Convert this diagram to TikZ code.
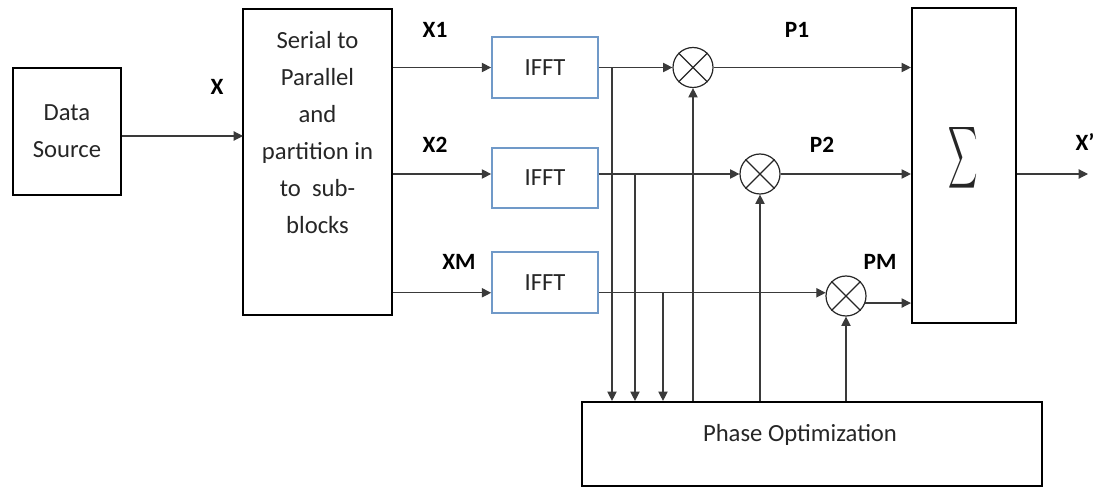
\documentclass[tikz,border=0pt]{standalone}
\usepackage{fontspec}
\setmainfont{Carlito}
\usetikzlibrary{arrows.meta}
\definecolor{fftblue}{HTML}{7099C8}
\definecolor{wire}{HTML}{3A3A3A}
\begin{document}
\begin{tikzpicture}[x=0.75pt,y=-0.75pt,
  every node/.style={font=\fontsize{18.5}{27.75}\selectfont, text=black!85},
  blk/.style={draw=black, line width=1.6pt, rectangle, inner sep=0pt},
  fftbox/.style={draw=fftblue, line width=1.3pt, rectangle, inner sep=0pt, minimum width=79.5pt, minimum height=45.5pt},
  mult/.style={draw=black!85, line width=0.9pt, circle, minimum size=30pt, inner sep=0pt},
  lbl/.style={font=\fontsize{17.5}{20}\bfseries\selectfont, text=black},
  arr/.style={draw=wire, line width=0.85pt, -{Triangle[length=7pt,width=7pt]}}]
\useasboundingbox (0,0) rectangle (1097,488);

% blocks
\node[blk, minimum width=81pt, minimum height=95pt, align=center] (ds) at (67,131.5) {Data\\Source};
\node[blk, minimum width=111.75pt, minimum height=229.5pt] (sp) at (317.5,162) {};
\node[align=center, inner sep=0pt] (spt) at (317.5,132.5) {Serial to\\Parallel\\and\\partition in\\to~ sub-\\blocks};
\node[fftbox] (f1) at (545,67.5) {IFFT};
\node[fftbox] (f2) at (545,178) {IFFT};
\node[fftbox] (f3) at (545,282.5) {IFFT};
\node[mult] (m1) at (693,67.5) {};
\node[mult] (m2) at (760,174) {};
\node[mult] (m3) at (846,296) {};
\foreach \m in {m1,m2,m3}{
  \draw[black!85, line width=0.9pt] (\m.45) -- (\m.225) (\m.135) -- (\m.315);
}
\node[blk, minimum width=78pt, minimum height=236.25pt] (sum) at (964,165.5) {};
\node[inner sep=0pt] (sig) at (963,158) {\resizebox{22pt}{40pt}{$\displaystyle\sum$}};
\node[blk, minimum width=345pt, minimum height=63pt] (po) at (812,444) {};
\node[inner sep=0pt] (pot) at (800,435) {Phase Optimization};

% labels
\node[lbl] (lx) at (217,87) {X};
\node[lbl] (lx1) at (435,30) {X1};
\node[lbl] (lx2) at (435,145) {X2};
\node[lbl] (lxm) at (459,262) {XM};
\node[lbl] (lp1) at (797,30) {P1};
\node[lbl] (lp2) at (822,145) {P2};
\node[lbl] (lpm) at (880,262) {PM};
\node[lbl] (lxo) at (1085,142) {X’};

% connectors
\coordinate (xin) at (243,136);
\draw[arr] (ds.east |- xin) -- (xin);
\draw[arr] (sp.east |- f1.west) -- (f1.west);
\draw[arr] (sp.east |- m2) -- (f2.west |- m2);
\draw[arr] (sp.east |- m3.171) -- (f3.west |- m3.171);
\draw[arr] (f1.east) -- (m1.west);
\draw[arr] (f2.east |- m2) -- (m2.west);
\draw[arr] (f3.east |- m3.171) -- (m3.171);
\draw[arr] (m1.east) -- (sum.west |- m1.east);
\draw[arr] (m2.east) -- (sum.west |- m2.east);
\draw[arr] (m3.-20) -- (sum.west |- m3.-20);
\coordinate (xout) at (1088,174);
\draw[arr] (sum.east |- xout) -- (xout);

\coordinate (j1) at (612,67.5);
\coordinate (j2) at (635,174);
\coordinate (j3) at (663,293.5);
\foreach \j in {j1,j2,j3}{
  \draw[arr] (\j) -- (\j |- po.north);
}
\foreach \m in {m1,m2,m3}{
  \draw[arr] (\m |- po.north) -- (\m.south);
}
\end{tikzpicture}
\end{document}
